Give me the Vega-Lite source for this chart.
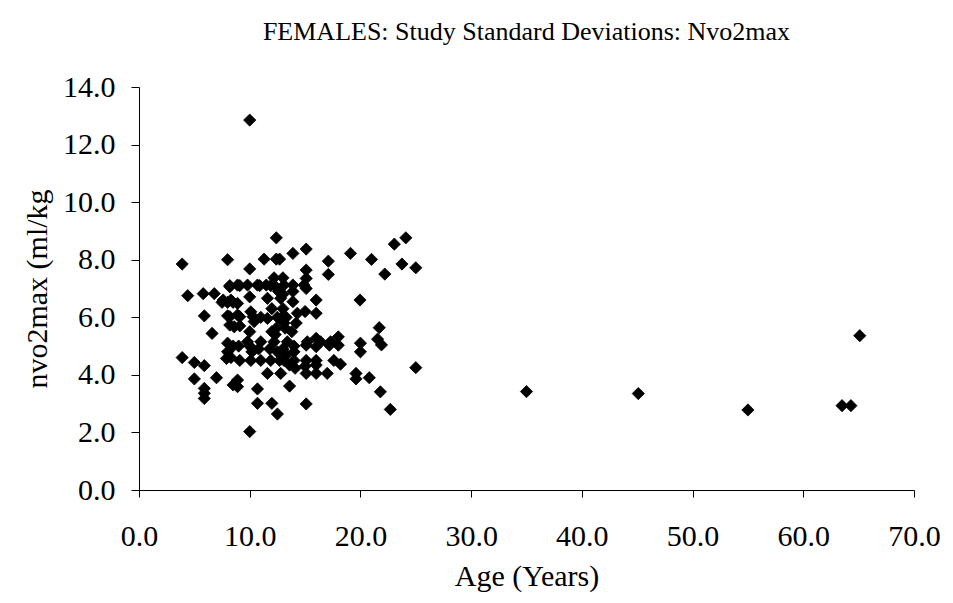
{
  "$schema": "https://vega.github.io/schema/vega-lite/v6.json",
  "width": 775,
  "height": 403,
  "autosize": {"type": "none"},
  "padding": {"left": 139, "top": 87, "right": 39, "bottom": 113},
  "background": "white",
  "config": {
    "view": {"stroke": null},
    "font": "Liberation Serif"
  },
  "title": {
    "text": "FEMALES: Study Standard Deviations: Nvo2max",
    "font": "Liberation Serif",
    "fontSize": 26,
    "fontWeight": "normal",
    "color": "black",
    "anchor": "middle",
    "offset": 27
  },
  "data": {
    "values": [
      {"age": 3.9, "sd": 7.85}, {"age": 3.9, "sd": 4.6}, {"age": 4.4, "sd": 6.75}, {"age": 5.0, "sd": 4.43},
      {"age": 5.0, "sd": 3.86}, {"age": 5.8, "sd": 6.82}, {"age": 5.9, "sd": 6.05}, {"age": 5.9, "sd": 4.32},
      {"age": 5.9, "sd": 3.53}, {"age": 5.9, "sd": 3.36}, {"age": 5.9, "sd": 3.18}, {"age": 6.6, "sd": 5.44},
      {"age": 6.8, "sd": 6.82}, {"age": 7.0, "sd": 3.9}, {"age": 7.5, "sd": 6.52}, {"age": 7.6, "sd": 6.6},
      {"age": 7.9, "sd": 4.57}, {"age": 8.0, "sd": 8.0}, {"age": 8.0, "sd": 6.52}, {"age": 8.0, "sd": 6.05},
      {"age": 8.0, "sd": 5.1}, {"age": 8.2, "sd": 7.06}, {"age": 8.2, "sd": 5.73}, {"age": 8.2, "sd": 6.02},
      {"age": 8.3, "sd": 6.6}, {"age": 8.5, "sd": 6.52}, {"age": 8.5, "sd": 3.65}, {"age": 8.6, "sd": 5.67},
      {"age": 8.2, "sd": 7.1}, {"age": 8.0, "sd": 4.8}, {"age": 8.3, "sd": 4.6}, {"age": 8.5, "sd": 5.0},
      {"age": 8.9, "sd": 7.12}, {"age": 8.9, "sd": 6.48}, {"age": 8.9, "sd": 6.08}, {"age": 8.9, "sd": 3.82},
      {"age": 8.9, "sd": 3.59}, {"age": 9.1, "sd": 4.5}, {"age": 9.1, "sd": 7.1}, {"age": 9.1, "sd": 6.02},
      {"age": 9.0, "sd": 5.0}, {"age": 9.1, "sd": 5.7},
      {"age": 9.8, "sd": 7.12}, {"age": 10.0, "sd": 7.68}, {"age": 10.0, "sd": 6.71}, {"age": 10.1, "sd": 6.19},
      {"age": 10.4, "sd": 5.85}, {"age": 10.3, "sd": 6.02}, {"age": 9.8, "sd": 5.15}, {"age": 10.1, "sd": 4.5},
      {"age": 10.0, "sd": 2.03}, {"age": 10.0, "sd": 12.85}, {"age": 10.0, "sd": 5.0}, {"age": 10.2, "sd": 4.8},
      {"age": 10.0, "sd": 5.5},
      {"age": 10.7, "sd": 7.12}, {"age": 10.7, "sd": 3.51}, {"age": 10.7, "sd": 3.01}, {"age": 11.0, "sd": 5.15},
      {"age": 11.0, "sd": 4.5}, {"age": 10.9, "sd": 7.1}, {"age": 11.0, "sd": 6.0}, {"age": 10.8, "sd": 4.9},
      {"age": 11.3, "sd": 8.02}, {"age": 11.5, "sd": 7.12}, {"age": 11.6, "sd": 6.66}, {"age": 11.6, "sd": 5.96},
      {"age": 11.6, "sd": 4.05}, {"age": 11.9, "sd": 4.5}, {"age": 11.9, "sd": 7.1}, {"age": 12.0, "sd": 3.01},
      {"age": 12.0, "sd": 6.3}, {"age": 12.0, "sd": 5.5}, {"age": 11.8, "sd": 4.9},
      {"age": 12.4, "sd": 8.76}, {"age": 12.4, "sd": 8.02}, {"age": 12.2, "sd": 7.37}, {"age": 12.2, "sd": 7.12},
      {"age": 12.2, "sd": 5.15}, {"age": 12.5, "sd": 2.64}, {"age": 12.8, "sd": 5.96}, {"age": 12.8, "sd": 4.05},
      {"age": 12.7, "sd": 8.02}, {"age": 12.8, "sd": 6.66}, {"age": 12.5, "sd": 6.0}, {"age": 12.4, "sd": 5.62},
      {"age": 12.5, "sd": 4.8}, {"age": 12.6, "sd": 6.9}, {"age": 12.3, "sd": 5.4}, {"age": 12.7, "sd": 4.5},
      {"age": 13.0, "sd": 7.37}, {"age": 13.1, "sd": 7.12}, {"age": 13.1, "sd": 4.5}, {"age": 13.4, "sd": 5.15},
      {"age": 13.0, "sd": 6.3}, {"age": 13.2, "sd": 5.62}, {"age": 13.0, "sd": 4.9}, {"age": 13.3, "sd": 6.0},
      {"age": 13.1, "sd": 5.8}, {"age": 13.3, "sd": 4.7}, {"age": 13.0, "sd": 6.8},
      {"age": 13.9, "sd": 8.22}, {"age": 13.9, "sd": 7.12}, {"age": 13.6, "sd": 3.61}, {"age": 14.0, "sd": 4.5},
      {"age": 13.6, "sd": 4.34}, {"age": 13.9, "sd": 6.54}, {"age": 14.3, "sd": 6.14}, {"age": 14.0, "sd": 5.0},
      {"age": 13.8, "sd": 5.5}, {"age": 14.1, "sd": 4.23}, {"age": 13.9, "sd": 6.9}, {"age": 14.2, "sd": 5.8},
      {"age": 14.0, "sd": 4.8},
      {"age": 14.9, "sd": 7.12}, {"age": 15.1, "sd": 8.37}, {"age": 15.1, "sd": 7.64}, {"age": 15.1, "sd": 7.35},
      {"age": 15.2, "sd": 5.15}, {"age": 15.1, "sd": 4.5}, {"age": 15.1, "sd": 4.05}, {"age": 15.1, "sd": 2.99},
      {"age": 15.1, "sd": 5.03}, {"age": 15.1, "sd": 7.0}, {"age": 15.0, "sd": 6.2}, {"age": 15.0, "sd": 4.3},
      {"age": 16.0, "sd": 6.6}, {"age": 16.0, "sd": 6.14}, {"age": 16.4, "sd": 5.15}, {"age": 16.0, "sd": 4.5},
      {"age": 16.0, "sd": 4.05}, {"age": 16.0, "sd": 5.27}, {"age": 16.0, "sd": 4.98}, {"age": 16.0, "sd": 4.34},
      {"age": 17.1, "sd": 7.95}, {"age": 17.1, "sd": 7.49}, {"age": 17.3, "sd": 5.15}, {"age": 17.0, "sd": 4.05},
      {"age": 17.6, "sd": 4.5}, {"age": 17.2, "sd": 5.03},
      {"age": 18.0, "sd": 5.32}, {"age": 18.0, "sd": 5.03}, {"age": 18.2, "sd": 4.37},
      {"age": 19.1, "sd": 8.22}, {"age": 19.96, "sd": 6.6}, {"age": 20.0, "sd": 5.1}, {"age": 20.0, "sd": 4.8},
      {"age": 19.6, "sd": 4.05}, {"age": 19.6, "sd": 3.86}, {"age": 20.8, "sd": 3.9},
      {"age": 21.0, "sd": 8.01}, {"age": 21.7, "sd": 5.64}, {"age": 21.55, "sd": 5.24}, {"age": 21.9, "sd": 5.04},
      {"age": 21.8, "sd": 3.41}, {"age": 22.2, "sd": 7.5}, {"age": 22.7, "sd": 2.8},
      {"age": 23.06, "sd": 8.54}, {"age": 24.1, "sd": 8.76}, {"age": 23.75, "sd": 7.85}, {"age": 25.0, "sd": 7.72},
      {"age": 25.0, "sd": 4.25},
      {"age": 35.0, "sd": 3.42}, {"age": 45.1, "sd": 3.35}, {"age": 55.0, "sd": 2.78}, {"age": 63.5, "sd": 2.93},
      {"age": 64.3, "sd": 2.93}, {"age": 65.1, "sd": 5.36}
    ]
  },
  "mark": {"type": "point", "shape": "diamond", "filled": true, "color": "black", "size": 150, "opacity": 1, "stroke": "black", "strokeWidth": 0.8},
  "encoding": {
    "x": {
      "field": "age", "type": "quantitative",
      "scale": {"domain": [0, 70], "nice": false, "zero": false},
      "axis": {
        "title": "Age (Years)", "values": [0, 10, 20, 30, 40, 50, 60, 70], "format": ".1f",
        "grid": false, "domainColor": "black", "tickColor": "black", "tickSize": 7,
        "labelFlush": false, "labelOverlap": false,
        "labelFont": "Liberation Serif", "labelFontSize": 30, "labelColor": "black", "labelPadding": 24,
        "titleFont": "Liberation Serif", "titleFontSize": 30, "titleFontWeight": "normal", "titleColor": "black", "titlePadding": 10
      }
    },
    "y": {
      "field": "sd", "type": "quantitative",
      "scale": {"domain": [0, 14], "nice": false, "zero": true},
      "axis": {
        "title": "nvo2max (ml/kg", "values": [0, 2, 4, 6, 8, 10, 12, 14], "format": ".1f",
        "grid": false, "domainColor": "black", "tickColor": "black", "tickSize": 8,
        "labelFlush": false, "labelOverlap": false,
        "labelFont": "Liberation Serif", "labelFontSize": 30, "labelColor": "black", "labelPadding": 16,
        "titleFont": "Liberation Serif", "titleFontSize": 30, "titleFontWeight": "normal", "titleColor": "black", "titlePadding": 10
      }
    }
  }
}
